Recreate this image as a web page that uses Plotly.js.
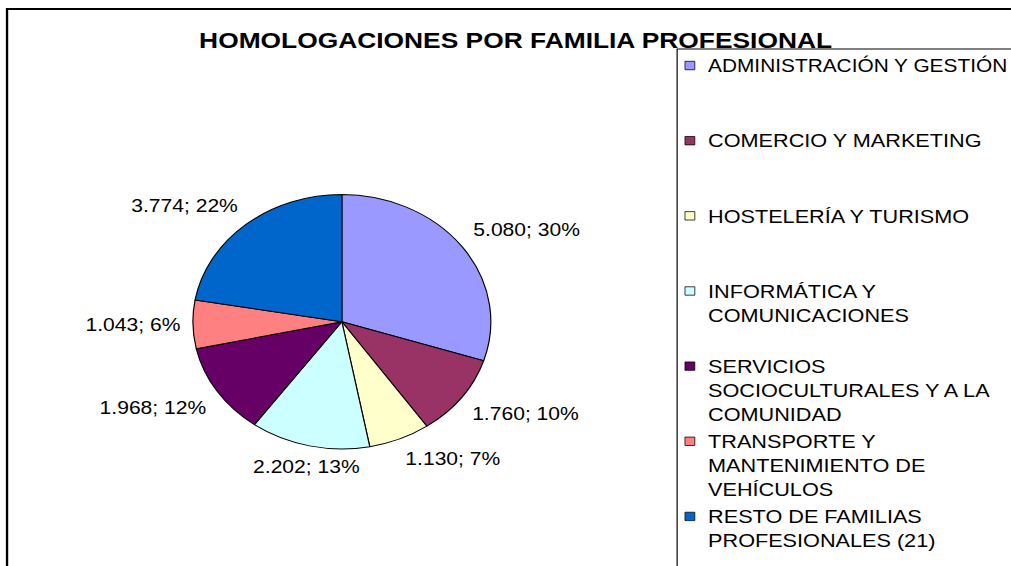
<!DOCTYPE html>
<html>
<head>
<meta charset="utf-8">
<script src="https://cdn.plot.ly/plotly-3.0.1.min.js"></script>
<style>
html,body{margin:0;padding:0;overflow:hidden;background:#ffffff;}
#chart{width:863px;height:566px;transform:scaleX(1.1715);transform-origin:0 0;}
</style>
</head>
<body>
<div id="chart"></div>
<script>
const chartTitle = 'HOMOLOGACIONES POR FAMILIA PROFESIONAL';
const categories = [
  'ADMINISTRACIÓN Y GESTIÓN',
  'COMERCIO Y MARKETING',
  'HOSTELERÍA Y TURISMO',
  'INFORMÁTICA Y<br>COMUNICACIONES',
  'SERVICIOS<br>SOCIOCULTURALES Y A LA<br>COMUNIDAD',
  'TRANSPORTE Y<br>MANTENIMIENTO DE<br>VEHÍCULOS',
  'RESTO DE FAMILIAS<br>PROFESIONALES (21)'
];
const homologaciones = [5080, 1760, 1130, 2202, 1968, 1043, 3774];
const sliceColors = ['#9999FF', '#993366', '#FFFFCC', '#CCFFFF', '#660066', '#FF8080', '#0066CC'];

const W = 863, H = 566;
const FONT = 'Liberation Sans, Arial, sans-serif';
const pieDomain = {x: [0.1908, 0.4855], y: [0.2068, 0.6562]};
const LEGEND_SIZE = 18.5;
const LEGEND_MAX_TEXT = 256; // px available for a legend line before the page edge

// legend entries padded to a common number of lines (Excel spreads entries evenly);
// a line that would run past the page edge gets a slightly smaller font
function approxWidth(line, size) { return line.length * 0.6 * size; }
const legendLabels = categories.map(function (c, i) {
  const lines = c.split('<br>').map(function (ln) {
    return approxWidth(ln, LEGEND_SIZE) > LEGEND_MAX_TEXT
      ? '<span style="font-size:17.8px">' + ln + '</span>' : ln;
  });
  let s = lines.join('<br>');
  if (i < categories.length - 1) {
    for (let k = lines.length; k < 3; k++) s += '<br>\u00a0';
  }
  return s;
});

// data labels "value; percent" placed Excel-style just outside each slice
function fmtThousands(v) {
  return String(v).replace(/\B(?=(\d{3})+(?!\d))/g, '.');
}
const total = homologaciones.reduce(function (a, b) { return a + b; }, 0);
const cx = (pieDomain.x[0] + pieDomain.x[1]) / 2 * W;
const cy = (1 - (pieDomain.y[0] + pieDomain.y[1]) / 2) * H;
const R = Math.min((pieDomain.x[1] - pieDomain.x[0]) * W, (pieDomain.y[1] - pieDomain.y[0]) * H) / 2;
const labelGap = 10;
let cum = 0;
const labelAnnotations = homologaciones.map(function (v) {
  const mid = (cum + v / 2) / total * 2 * Math.PI;
  cum += v;
  const s = Math.sin(mid), c = -Math.cos(mid);
  const px = cx + (R + labelGap) * s;
  const py = cy + (R + labelGap) * c;
  return {
    xref: 'paper', yref: 'paper',
    x: px / W, y: 1 - py / H,
    text: fmtThousands(v) + '; ' + Math.round(v / total * 100) + '%',
    showarrow: false,
    xanchor: s > 0.3 ? 'left' : (s < -0.3 ? 'right' : 'center'),
    yanchor: c > 0.3 ? 'top' : (c < -0.3 ? 'bottom' : 'middle'),
    borderpad: 0,
    font: {family: FONT, size: 18, color: '#000000'}
  };
});

const trace = {
  type: 'pie',
  labels: legendLabels,
  values: homologaciones,
  sort: false,
  direction: 'clockwise',
  rotation: 0,
  marker: {colors: sliceColors, line: {color: '#000000', width: 1}},
  textinfo: 'none',
  automargin: false,
  domain: pieDomain,
  hoverinfo: 'label+value+percent'
};

const layout = {
  width: W,
  height: H,
  margin: {l: 0, r: 0, t: 0, b: 0, autoexpand: false},
  paper_bgcolor: '#ffffff',
  separators: ',.',
  font: {family: FONT, color: '#000000'},
  title: {
    text: '<b>' + chartTitle + '</b>',
    font: {family: FONT, size: 22.5, color: '#000000'},
    x: 0.51, xanchor: 'center', xref: 'paper',
    y: 1 - 40.5 / 566, yanchor: 'middle', yref: 'container'
  },
  showlegend: true,
  legend: {
    x: 0.654, xanchor: 'left',
    y: 1 - 46.5 / 566, yanchor: 'top',
    bgcolor: 'rgba(0,0,0,0)',
    borderwidth: 0,
    valign: 'top',
    font: {family: FONT, size: LEGEND_SIZE, color: '#000000'},
    traceorder: 'normal'
  },
  annotations: labelAnnotations,
  shapes: [
    {type: 'rect', xref: 'paper', yref: 'paper', x0: 6 / W, x1: 1.2, y0: -0.2, y1: 1 - 9 / H,
     line: {color: '#000000', width: 2}, fillcolor: 'rgba(0,0,0,0)', layer: 'below'},
    {type: 'rect', xref: 'paper', yref: 'paper', x0: 578 / W, x1: 1.2, y0: -0.2, y1: 1 - 49 / H,
     line: {color: '#000000', width: 1}, fillcolor: '#ffffff', layer: 'below'}
  ]
};

Plotly.newPlot('chart', [trace], layout, {displayModeBar: false, staticPlot: true}).then(function (gd) {
  // Excel draws smaller legend keys than Plotly's default pie swatch
  gd.querySelectorAll('.legend .legendpoints path').forEach(function (p) {
    const t = p.getAttribute('transform') || '';
    p.setAttribute('transform', t + ' translate(4.5,0.5) scale(0.7)');
  });
});
</script>
</body>
</html>
